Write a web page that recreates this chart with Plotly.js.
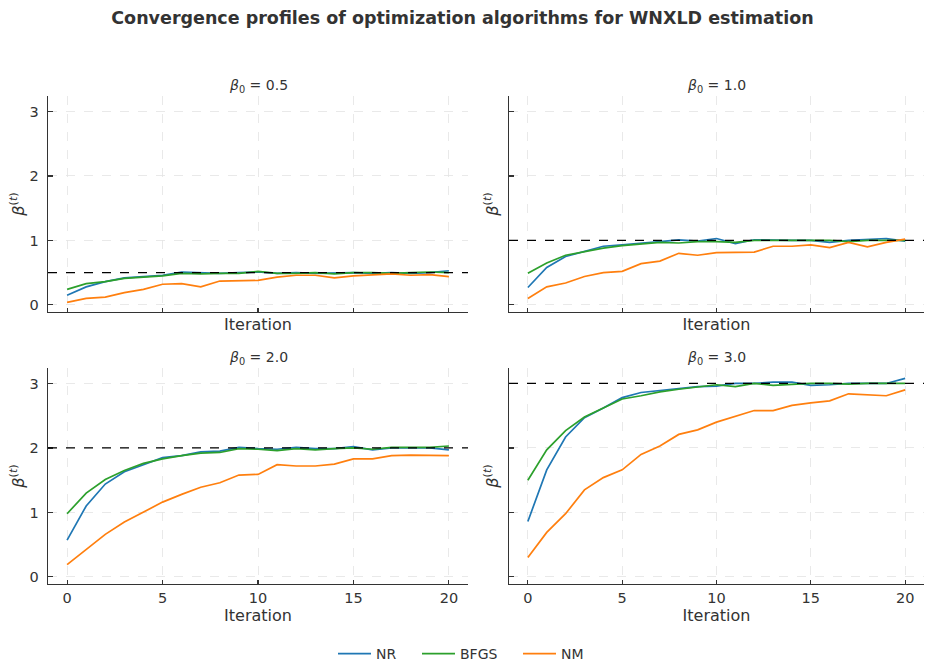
<!DOCTYPE html>
<html>
<head>
<meta charset="utf-8">
<script src="https://cdn.plot.ly/plotly-3.0.1.min.js"></script>
<style>html,body{margin:0;padding:0;background:#fff;}</style>
</head>
<body>
<div id="chart" style="width:925px;height:661px;"></div>
<script>
const iterations = [0,1,2,3,4,5,6,7,8,9,10,11,12,13,14,15,16,17,18,19,20];
const betaTrue = [0.5, 1.0, 2.0, 3.0];
const panelTitles = ["0.5", "1.0", "2.0", "3.0"];
const methods = ["NR", "BFGS", "NM"];
const colors = ["#1f77b4", "#2ca02c", "#ff7f0e"];

const nr_05   = [0.15,0.28,0.36,0.42,0.44,0.46,0.51,0.50,0.49,0.50,0.51,0.49,0.50,0.49,0.50,0.50,0.49,0.50,0.49,0.50,0.53];
const bfgs_05 = [0.24,0.33,0.36,0.41,0.43,0.45,0.49,0.48,0.49,0.49,0.52,0.49,0.49,0.50,0.48,0.50,0.50,0.49,0.50,0.51,0.50];
const nm_05   = [0.04,0.10,0.12,0.19,0.24,0.32,0.33,0.28,0.37,0.37,0.38,0.43,0.46,0.46,0.42,0.45,0.47,0.48,0.46,0.47,0.44];

const nr_10   = [0.27,0.58,0.75,0.83,0.91,0.93,0.95,0.98,1.01,0.99,1.03,0.95,1.01,1.00,1.00,1.00,0.97,1.00,1.01,1.03,0.99];
const bfgs_10 = [0.49,0.65,0.77,0.83,0.88,0.92,0.94,0.97,0.96,0.98,0.98,0.97,1.00,1.00,1.00,1.00,1.00,0.98,1.00,1.00,1.00];
const nm_10   = [0.10,0.28,0.34,0.44,0.50,0.52,0.64,0.68,0.80,0.77,0.81,0.82,0.82,0.91,0.91,0.93,0.89,0.97,0.90,0.97,1.02];

const nr_20   = [0.57,1.10,1.44,1.63,1.74,1.85,1.88,1.94,1.95,2.01,1.99,1.98,2.01,1.99,1.99,2.02,1.97,2.00,2.00,2.00,1.97];
const bfgs_20 = [0.98,1.30,1.51,1.65,1.76,1.83,1.88,1.92,1.93,1.99,1.98,1.96,1.99,1.97,1.99,2.00,1.98,2.01,2.01,2.01,2.03];
const nm_20   = [0.19,0.43,0.66,0.85,1.01,1.16,1.28,1.39,1.46,1.58,1.59,1.74,1.72,1.72,1.75,1.83,1.83,1.88,1.89,1.89,1.88];

const nr_30   = [0.86,1.66,2.17,2.47,2.62,2.78,2.86,2.89,2.93,2.95,2.96,3.00,3.00,3.02,3.02,2.97,2.98,3.00,3.00,3.00,3.08];
const bfgs_30 = [1.50,1.97,2.27,2.48,2.62,2.76,2.81,2.87,2.91,2.94,2.98,2.95,3.00,2.97,2.99,3.00,3.00,2.99,3.00,3.00,3.00];
const nm_30   = [0.30,0.69,0.98,1.35,1.54,1.66,1.90,2.03,2.21,2.28,2.40,2.49,2.58,2.58,2.66,2.70,2.73,2.84,2.83,2.81,2.90];

const panels = [
  [nr_05, bfgs_05, nm_05],
  [nr_10, bfgs_10, nm_10],
  [nr_20, bfgs_20, nm_20],
  [nr_30, bfgs_30, nm_30]
];

const W = 925, H = 661;
const xDomains = [[48/W, 468/W], [509/W, 924/W]];
const yDomains = [[(H-312)/H, (H-96)/H], [(H-584)/H, (H-368)/H]];
const legendX = [333/W, 417/W, 518/W];

const font = {family: "DejaVu Sans, sans-serif", color: "#333333"};
const traces = [];
const layout = {
  width: W, height: H,
  margin: {l: 0, r: 0, t: 0, b: 0, autoexpand: false},
  paper_bgcolor: "#ffffff",
  plot_bgcolor: "#ffffff",
  font: Object.assign({size: 14}, font),
  showlegend: true,
  title: {
    text: "<b>Convergence profiles of optimization algorithms for WNXLD estimation</b>",
    x: 0.5, xanchor: "center", y: 1 - 18/H, yanchor: "middle",
    font: Object.assign({size: 17.5}, font)
  },
  shapes: [],
  annotations: []
};

const legendNames = ["legend", "legend2", "legend3"];
for (let m = 0; m < 3; m++) {
  layout[legendNames[m]] = {
    orientation: "h", x: legendX[m], xanchor: "left", y: (H-654)/H, yanchor: "middle",
    font: Object.assign({size: 14}, font), bgcolor: "rgba(0,0,0,0)", itemwidth: 33,
    borderwidth: 0
  };
}

for (let p = 0; p < 4; p++) {
  const row = Math.floor(p / 2), col = p % 2;
  const idx = p === 0 ? "" : String(p + 1);
  const xa = "xaxis" + idx, ya = "yaxis" + idx;
  const xr = "x" + idx, yr = "y" + idx;
  layout[xa] = {
    domain: xDomains[col], anchor: yr, range: [-1, 21],
    tickvals: [0,5,10,15,20], showticklabels: row === 1,
    ticks: "inside", ticklen: 4.5, tickwidth: 1.1, tickcolor: "#333333",
    ticklabelstandoff: row === 1 ? 0 : 5,
    showline: true, linecolor: "#333333", linewidth: 1.3,
    showgrid: true, gridcolor: "#e3e3e3", griddash: "dash", gridwidth: 0.8,
    zeroline: false,
    tickfont: Object.assign({size: 14.5}, font),
    title: {text: "Iteration", font: Object.assign({size: 16}, font), standoff: row === 1 ? 2 : 6}
  };
  layout[ya] = {
    domain: yDomains[row], anchor: xr, range: [-0.11, 3.24],
    tickvals: [0,1,2,3], showticklabels: col === 0,
    ticks: "inside", ticklen: 4.5, tickwidth: 1.1, tickcolor: "#333333",
    ticklabelstandoff: 5,
    showline: true, linecolor: "#333333", linewidth: 1.3,
    showgrid: true, gridcolor: "#e3e3e3", griddash: "dash", gridwidth: 0.8,
    zeroline: false,
    tickfont: Object.assign({size: 14.5}, font),
    title: {text: "<i>β</i><sup>(<i>t</i>)</sup>", font: Object.assign({size: 16}, font), standoff: col === 0 ? 1 : 5}
  };
  for (let m = 0; m < 3; m++) {
    traces.push({
      x: iterations, y: panels[p][m], type: "scatter", mode: "lines",
      name: methods[m], legend: legendNames[m], showlegend: p === 0,
      line: {color: colors[m], width: 1.7},
      xaxis: xr, yaxis: yr
    });
  }
  layout.shapes.push({
    type: "line", xref: xr + " domain", yref: yr,
    x0: 0, x1: 1, y0: betaTrue[p], y1: betaTrue[p],
    line: {color: "#000000", width: 1.3, dash: "dash"}
  });
  layout.annotations.push({
    text: "<i>β</i><sub>0</sub> = " + panelTitles[p],
    xref: xr + " domain", yref: yr + " domain", x: 0.5, y: 1,
    xanchor: "center", yanchor: "bottom", yshift: -1, showarrow: false,
    font: Object.assign({size: 14}, font)
  });
}

Plotly.newPlot("chart", traces, layout, {displayModeBar: false, staticPlot: true});
</script>
</body>
</html>
